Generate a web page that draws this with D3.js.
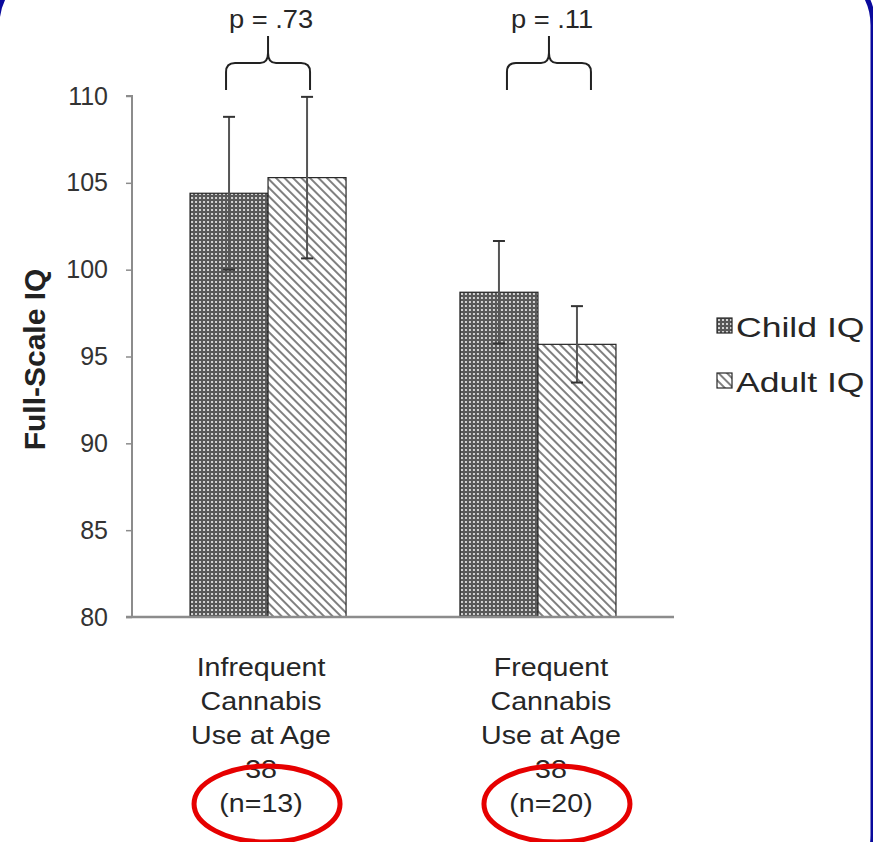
<!DOCTYPE html>
<html>
<head>
  <meta charset="utf-8">
  <title>Full-Scale IQ by cannabis use</title>
  <style type="text/css">
    body{
      margin:0;
      background:#fff;
    }
    svg text{
      font-family: "Liberation Sans", Arial, sans-serif;
    }
  </style>
</head>
<body>
<div id="chart"></div>
<script src="https://cdn.jsdelivr.net/npm/d3@7"></script>
<script type="text/javascript">
  // data
  var groups = ["Infrequent", "Frequent"];
  var groupLabels = [
    ["Infrequent", "Cannabis", "Use at Age", "38", "(n=13)"],
    ["Frequent", "Cannabis", "Use at Age", "38", "(n=20)"]
  ];
  var series = ["Child IQ", "Adult IQ"];
  var childIQ = [104.4, 98.7];
  var adultIQ = [105.3, 95.7];
  var childErr = [4.4, 2.95];
  var adultErr = [4.65, 2.2];
  var pValues = ["p = .73", "p = .11"];
  var yTicks = [80, 85, 90, 95, 100, 105, 110];

  var width = 873, height = 842;
  var plot = {left: 132, right: 674, top: 96, bottom: 617};

  var svg = d3.select("#chart").append("svg")
      .attr("width", width)
      .attr("height", height);

  var defs = svg.append("defs");
  // dotted fill for child IQ
  var pc = defs.append("pattern")
      .attr("id", "childPat")
      .attr("patternUnits", "userSpaceOnUse")
      .attr("width", 4).attr("height", 4);
  pc.append("rect").attr("width", 4).attr("height", 4).attr("fill", "#585858");
  pc.append("rect").attr("x", 1).attr("y", 1).attr("width", 2).attr("height", 2).attr("fill", "#d2d2d2");
  // diagonal hatch for adult IQ
  var pa = defs.append("pattern")
      .attr("id", "adultPat")
      .attr("patternUnits", "userSpaceOnUse")
      .attr("width", 6).attr("height", 6)
      .attr("patternTransform", "rotate(-45)");
  pa.append("rect").attr("width", 6).attr("height", 6).attr("fill", "#fff");
  pa.append("line").attr("x1", 1).attr("y1", 0).attr("x2", 1).attr("y2", 6)
      .attr("stroke", "#808080").attr("stroke-width", 2);

  var fills = {"Child IQ": "url(#childPat)", "Adult IQ": "url(#adultPat)"};

  var rows = groups.map(function (g, i) {
    return {group: g, values: [
      {key: "Child IQ", value: childIQ[i], err: childErr[i]},
      {key: "Adult IQ", value: adultIQ[i], err: adultErr[i]}
    ]};
  });

  var x0 = d3.scaleBand()
      .domain(groups)
      .range([plot.left, plot.right])
      .paddingInner(0.422)
      .paddingOuter(0.215);
  var x1 = d3.scaleBand()
      .domain(series)
      .range([0, x0.bandwidth()]);
  var y = d3.scaleLinear()
      .domain([80, 110])
      .range([plot.bottom, plot.top]);

  // y axis
  var yAxis = svg.append("g")
      .attr("transform", "translate(" + plot.left + ",0)")
      .call(d3.axisLeft(y).tickValues(yTicks).tickSize(6).tickPadding(18));
  yAxis.select(".domain").attr("stroke", "#8c8c8c").attr("stroke-width", 2)
      .attr("d", "M-6," + y(110) + "H0V" + y(80));
  yAxis.selectAll(".tick line").attr("stroke", "#8c8c8c").attr("stroke-width", 1.5);
  yAxis.selectAll(".tick text")
      .attr("fill", "#333")
      .style("font-size", "25px")
      .style("font-family", "'Liberation Sans', Arial, sans-serif");

  svg.append("text")
      .attr("transform", "translate(45," + ((plot.top + plot.bottom) / 2 + 3) + ") rotate(-90)")
      .attr("text-anchor", "middle")
      .style("font-size", "30px")
      .style("font-weight", "bold")
      .attr("fill", "#222")
      .text("Full-Scale IQ");

  // bars
  var gGroups = svg.selectAll(".grp")
      .data(rows)
      .enter().append("g")
      .attr("class", "grp")
      .attr("transform", function (d) { return "translate(" + x0(d.group) + ",0)"; });

  gGroups.selectAll("rect")
      .data(function (d) { return d.values; })
      .enter().append("rect")
      .attr("x", function (d) { return x1(d.key); })
      .attr("y", function (d) { return y(d.value); })
      .attr("width", x1.bandwidth())
      .attr("height", function (d) { return y(80) - y(d.value); })
      .attr("fill", function (d) { return fills[d.key]; })
      .attr("stroke", "#262626")
      .attr("stroke-width", 1.2);

  // error bars
  var eb = gGroups.selectAll(".err")
      .data(function (d) { return d.values; })
      .enter().append("g")
      .attr("class", "err")
      .attr("transform", function (d) { return "translate(" + (x1(d.key) + x1.bandwidth() / 2) + ",0)"; });
  eb.append("line")
      .attr("y1", function (d) { return y(d.value + d.err); })
      .attr("y2", function (d) { return y(d.value - d.err); })
      .attr("stroke", "#555").attr("stroke-width", 2);
  eb.append("line")
      .attr("x1", -6).attr("x2", 6)
      .attr("y1", function (d) { return y(d.value + d.err); })
      .attr("y2", function (d) { return y(d.value + d.err); })
      .attr("stroke", "#333").attr("stroke-width", 2);
  eb.append("line")
      .attr("x1", -6).attr("x2", 6)
      .attr("y1", function (d) { return y(d.value - d.err); })
      .attr("y2", function (d) { return y(d.value - d.err); })
      .attr("stroke", "#333").attr("stroke-width", 2);

  // x baseline
  svg.append("line")
      .attr("x1", plot.left - 6).attr("x2", plot.right)
      .attr("y1", y(80)).attr("y2", y(80))
      .attr("stroke", "#8c8c8c").attr("stroke-width", 2.5);

  // category labels (source image is stretched a little sideways)
  var labelShift = [-7, 13];
  groups.forEach(function (g, i) {
    var cx = x0(g) + x0.bandwidth() / 2 + labelShift[i];
    svg.append("text")
        .attr("transform", "translate(" + cx + ",0) scale(1.1,1)")
        .attr("text-anchor", "middle")
        .attr("fill", "#262626")
        .style("font-size", "26px")
        .selectAll("tspan")
        .data(groupLabels[i])
        .enter().append("tspan")
        .attr("x", 0)
        .attr("y", function (d, k) { return 676 + k * 34; })
        .text(function (d) { return d; });
  });

  // p-value braces
  var braceShift = [0, 11];
  groups.forEach(function (g, i) {
    var cx = x0(g) + x0.bandwidth() / 2 + braceShift[i];
    var hw = 42, top = 63, stem = 36, leg = 90;
    var path = "M" + (cx - hw) + "," + leg + "V" + (top + 9) +
        "Q" + (cx - hw) + "," + top + " " + (cx - hw + 9) + "," + top +
        "H" + (cx - 8) + "Q" + cx + "," + top + " " + cx + "," + (top - 10) +
        "V" + stem +
        "M" + cx + "," + (top - 10) + "Q" + cx + "," + top + " " + (cx + 8) + "," + top +
        "H" + (cx + hw - 9) + "Q" + (cx + hw) + "," + top + " " + (cx + hw) + "," + (top + 9) +
        "V" + leg;
    svg.append("path")
        .attr("d", path)
        .attr("fill", "none")
        .attr("stroke", "#222")
        .attr("stroke-width", 2);
    svg.append("text")
        .attr("transform", "translate(" + (cx + 3) + ",28) scale(1.05,1)")
        .attr("text-anchor", "middle")
        .attr("fill", "#262626")
        .style("font-size", "26px")
        .text(pValues[i]);
  });

  // legend
  var legend = svg.selectAll(".legend")
      .data(series)
      .enter().append("g")
      .attr("class", "legend")
      .attr("transform", function (d, i) { return "translate(717," + (318 + i * 55) + ")"; });
  legend.append("rect")
      .attr("width", 15).attr("height", 15)
      .attr("fill", function (d) { return fills[d]; })
      .attr("stroke", "#262626").attr("stroke-width", 1.2);
  legend.append("text")
      .attr("transform", "translate(19,19) scale(1.27,1)")
      .attr("fill", "#262626")
      .style("font-size", "28px")
      .text(function (d) { return d; });

  // red circles around sample sizes
  groups.forEach(function (g, i) {
    var cx = x0(g) + x0.bandwidth() / 2 + labelShift[i] + 6;
    svg.append("ellipse")
        .attr("cx", cx).attr("cy", 804)
        .attr("rx", 73).attr("ry", 38)
        .attr("fill", "none")
        .attr("stroke", "#e60000")
        .attr("stroke-width", 5);
  });

  // blue slide frame, mostly off-canvas
  svg.append("rect")
      .attr("x", -3).attr("y", -35)
      .attr("width", 876).attr("height", 930)
      .attr("rx", 60)
      .attr("fill", "none")
      .attr("stroke", "#0a0a9c")
      .attr("stroke-width", 5);
</script>
</body>
</html>
